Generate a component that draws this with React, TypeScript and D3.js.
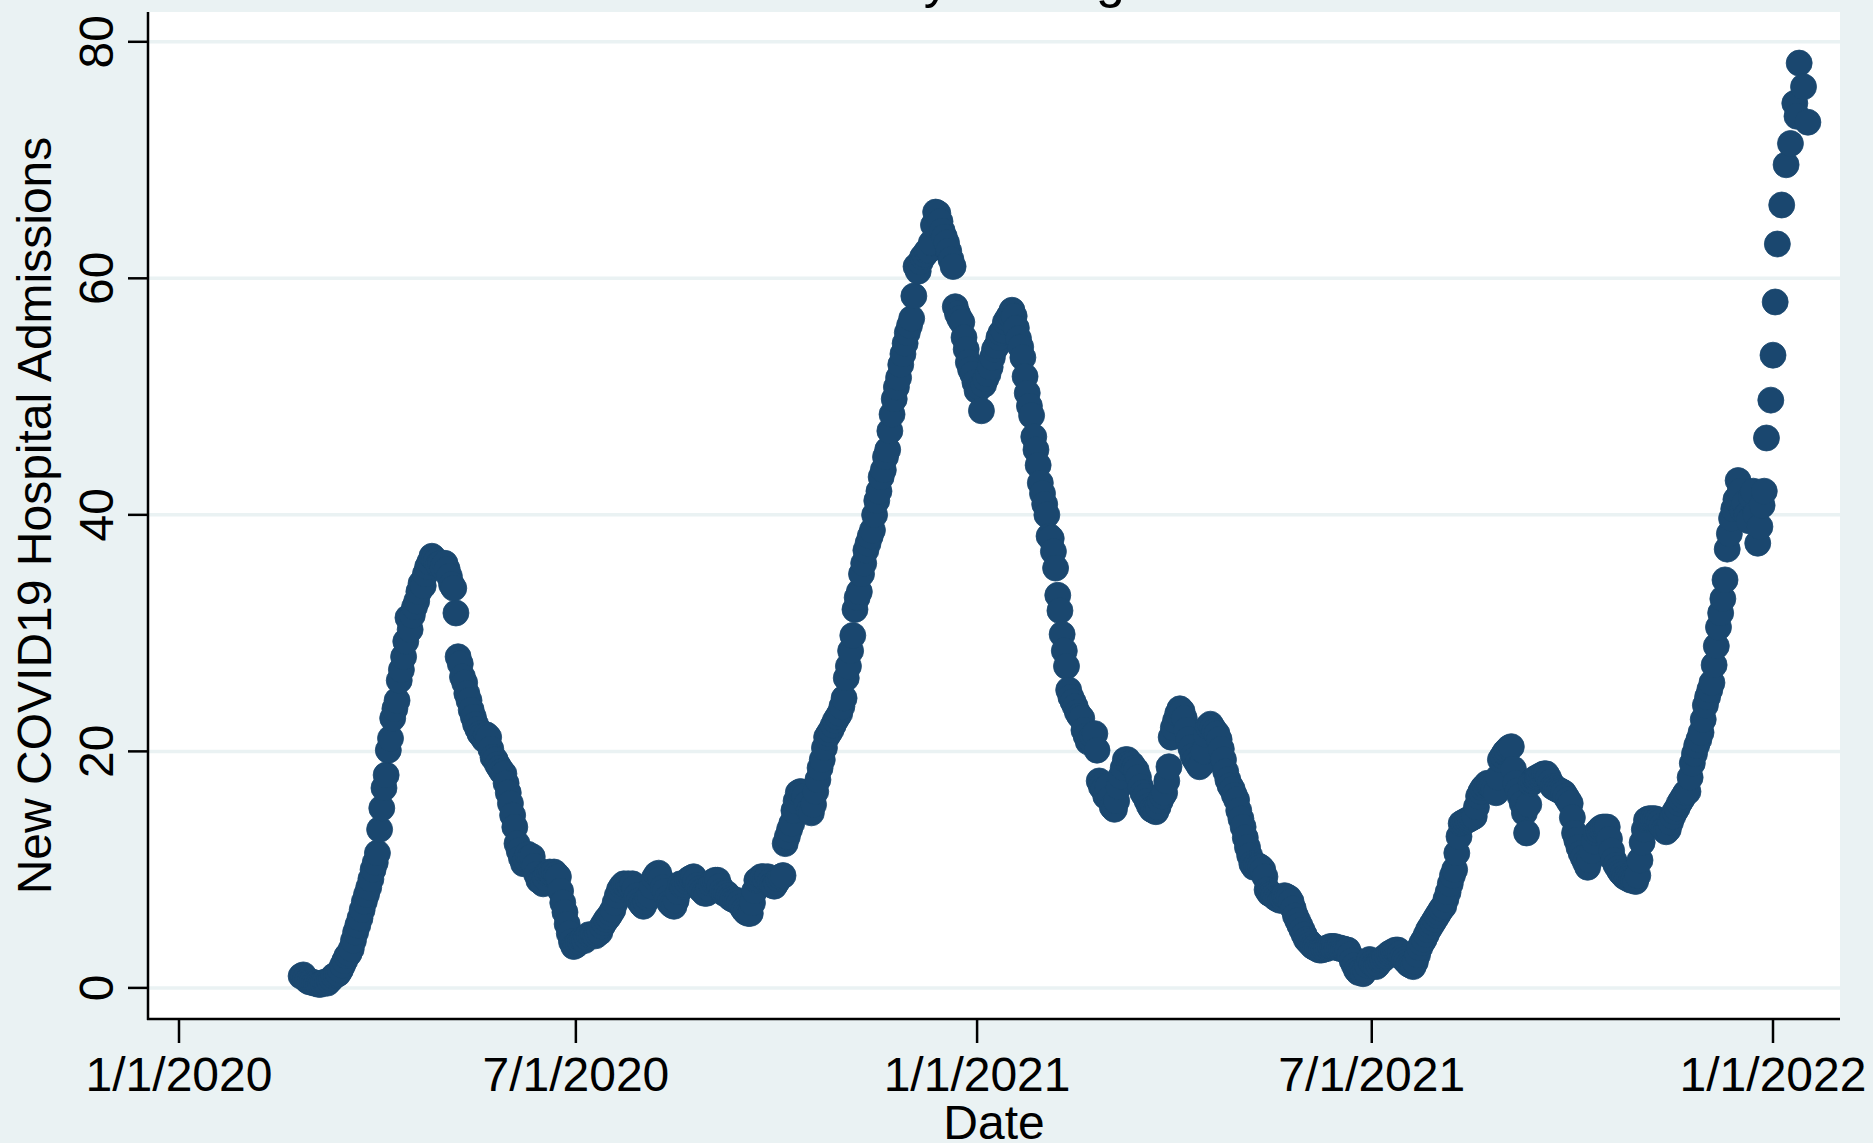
import React from "react";
import * as d3 from "d3";

// ---------------- data ----------------
const START_DATE = "2020-02-26"; // first daily observation
// 7-day average of new COVID19 hospital admissions, one value per day (null = no point)
const admissions: (number | null)[] = [
  1.0, 1.1, 0.8, 0.6, 0.5, 0.5, 0.4, 0.4, 0.3, 0.3,
  0.4, 0.5, 0.4, 0.6, 0.8, 1.0, 1.1, 1.2, 1.5, 1.9,
  2.3, 2.7, 2.9, 3.3, 4.0, 4.7, 5.3, 5.9, 6.6, 7.3,
  7.9, 8.5, 9.2, 10.0, 10.6, 11.4, 13.4, 15.2, 16.9, 18.0,
  20.1, 21.1, 22.8, 23.6, 24.3, 26.0, 26.9, 28.0, 29.3, 31.3,
  30.3, 31.5, 32.2, 32.7, 33.5, 34.2, 34.0, 35.0, 35.6, 36.0,
  36.5, 36.3, 36.1, 35.8, 35.9, 35.6, 35.9, 35.4, 34.8, 34.1,
  33.8, 31.7, 28.0, 27.4, 26.3, 25.8, 24.9, 24.3, 23.5, 22.9,
  22.3, 21.9, 21.5, 21.3, 21.0, 21.4, 21.2, 20.2, 19.5, 19.3,
  18.9, 18.6, 18.3, 18.1, 17.3, 16.5, 15.6, 14.6, 13.6, 12.2,
  11.6, 11.0, 10.5, 10.9, 11.3, 11.0, 11.1, 10.3, 9.6, 9.1,
  9.0, 8.8, 9.3, 9.7, 9.8, 9.7, 9.8, 9.6, 9.4, 8.2,
  7.2, 6.4, 5.4, 4.6, 3.9, 3.5, 3.6, 3.8, 3.9, 4.1,
  4.0, 4.3, 4.5, 4.4, 4.5, 4.4, 4.6, 4.7, 5.2, 5.5,
  5.8, 6.0, 6.3, 6.6, 7.2, 7.8, 8.3, 8.6, 8.8, 8.7,
  8.8, 8.6, 8.8, 8.4, 7.8, 7.4, 7.1, 6.9, 7.3, 7.6,
  7.8, 8.6, 9.3, 9.6, 9.7, 9.2, 8.5, 8.2, 7.6, 7.2,
  7.0, 6.9, 7.4, 8.1, 8.8, 8.6, 8.7, 9.0, 9.2, 9.3,
  9.4, 9.1, 8.7, 8.4, 8.2, 8.0, 8.0, 8.4, 8.8, 9.0,
  9.1, 9.1, 8.6, 8.2, 8.0, 8.0, 7.8, 7.6, 7.5, 7.4,
  7.4, 7.2, 6.9, 6.6, 6.4, 6.3, 6.3, 7.2, 8.2, 9.1,
  9.2, 9.4, 9.4, 9.2, 9.4, 9.0, 8.7, 8.6, 8.9, 9.2,
  9.4, 9.5, 12.2, 12.8, 13.4, 13.9, 15.0, 15.8, 16.5, 16.6,
  16.5, 16.2, 15.6, 15.0, 14.8, 15.5, 16.6, 17.6, 18.6, 19.3,
  20.3, 21.2, 21.5, 21.8, 22.2, 22.6, 22.9, 23.2, 23.8, 24.5,
  26.2, 27.2, 28.5, 29.8, 32.0, 33.0, 33.5, 35.0, 35.9, 37.0,
  37.6, 38.2, 38.7, 40.0, 41.2, 42.0, 43.2, 43.8, 44.9, 45.5,
  47.1, 48.5, 49.8, 50.8, 51.6, 52.7, 53.6, 54.5, 55.4, 56.0,
  56.6, 58.5, 61.0, 60.6, 61.4, 61.8, 62.0, 62.3, 62.4, 63.0,
  64.5, 65.6, 65.5, 64.8, 64.0, 63.5, 63.0, 62.3, 61.6, 61.0,
  57.6, 57.0, 56.6, 56.3, 55.0, 54.0, 52.9, 52.3, 51.9, 51.2,
  50.5, 50.8, 48.8, 51.0, 51.5, 51.9, 52.5, 53.3, 54.0, 54.3,
  55.0, 55.4, 55.6, 56.3, 56.6, 56.9, 57.3, 56.8, 55.8, 54.9,
  54.2, 53.3, 51.7, 50.3, 49.2, 48.4, 46.6, 45.5, 44.2, 42.7,
  41.8, 40.9, 40.0, 38.2, 38.0, 36.9, 35.5, 33.2, 31.9, 29.9,
  28.5, 27.2, 25.2, 24.6, 24.2, 23.8, 23.3, 23.0, 22.8, 21.8,
  21.3, 20.8, 21.0, 21.3, 21.5, 20.1, 17.5, 17.0, 16.8, 16.2,
  17.0, 16.0, 15.3, 15.1, 15.8, 17.0, 17.9, 18.6, 19.3, 19.3,
  19.0, 18.9, 18.6, 18.4, 17.8, 17.0, 16.5, 16.2, 15.8, 15.4,
  15.1, 15.0, 14.9, 15.3, 15.8, 16.2, 16.5, 17.5, 18.7, 21.2,
  22.0, 22.6, 23.2, 23.6, 23.4, 22.8, 21.8, 21.0, 20.3, 19.6,
  19.3, 19.0, 18.7, 18.9, 20.0, 21.4, 22.1, 22.3, 22.0, 21.7,
  21.5, 21.0, 20.2, 19.3, 18.3, 17.6, 17.1, 16.8, 16.3, 15.9,
  15.0, 14.3, 13.6, 12.7, 11.9, 11.2, 10.5, 10.2, 10.4, 10.3,
  10.2, 10.0, 9.4, 8.3, 8.0, 7.9, 7.8, 7.6, 7.5, 7.4,
  7.6, 7.8, 7.7, 7.6, 7.3, 6.7, 6.1, 5.7, 5.3, 4.9,
  4.5, 4.1, 3.9, 3.7, 3.5, 3.4, 3.3, 3.2, 3.2, 3.3,
  3.3, 3.4, 3.5, 3.5, 3.5, 3.4, 3.4, 3.3, 3.3, 3.2,
  3.2, 2.8, 2.3, 1.9, 1.5, 1.3, 1.4, 1.2, 1.5, 1.9,
  2.4, 2.1, 1.9, 1.8, 2.0, 2.3, 2.4, 2.6, 2.7, 2.9,
  3.0, 3.1, 3.2, 3.2, 2.9, 2.6, 2.4, 2.2, 2.0, 1.9,
  1.8, 2.2, 2.8, 3.4, 3.8, 4.1, 4.5, 4.9, 5.2, 5.5,
  5.8, 6.1, 6.4, 6.7, 6.9, 7.5, 8.1, 8.8, 9.5, 10.0,
  11.4, 12.8, 13.9, 14.0, 14.1, 14.2, 14.3, 14.4, 14.5, 15.3,
  16.2, 16.6, 16.9, 17.1, 17.3, 17.2, 17.0, 16.8, 16.5, 17.8,
  19.3, 19.6, 19.9, 20.1, 20.3, 20.4, 18.5, 17.3, 16.7, 16.2,
  15.6, 14.8, 13.1, 15.5, 17.3, 17.5, 17.7, 17.8, 17.9, 18.0,
  18.1, 18.1, 17.8, 17.4, 17.0, 16.9, 16.8, 16.7, 16.6, 16.5,
  16.2, 15.9, 15.6, 14.4, 13.1, 12.5, 11.9, 11.4, 11.0, 10.6,
  10.2, 10.8, 11.6, 12.4, 13.1, 13.3, 13.5, 13.6, 13.6, 13.6,
  12.6, 11.6, 10.8, 10.4, 10.1, 9.8, 9.6, 9.4, 9.3, 9.2,
  9.1, 9.1, 9.0, 9.5, 10.8, 12.3, 13.4, 14.2, 14.3, 14.3,
  14.3, 14.3, 14.2, 14.0, 13.7, 13.4, 13.2, 13.4, 14.0, 14.5,
  14.9, 15.2, 15.6, 15.9, 16.2, 16.5, 16.6, 17.8, 19.0, 19.8,
  20.5, 21.0, 21.6, 22.7, 23.9, 24.6, 25.2, 25.8, 27.3, 28.9,
  30.5, 31.7, 32.9, 34.5, 37.1, 38.4, 39.7, 40.5, 41.3, 42.9,
  42.0, 40.4, 41.0, 40.0, 39.5, 41.5, 42.0, 40.1, 37.6, 39.0,
  40.8, 42.0, 46.5, null, 49.7, 53.5, 58.0, 62.9, null, 66.2,
  null, 69.6, null, 71.4, null, 74.8, 73.7, 78.2, null, 76.2,
  null, 73.2,
];

const yTicks = [0, 20, 40, 60, 80];
const xTickDates = ["2020-01-01", "2020-07-01", "2021-01-01", "2021-07-01", "2022-01-01"];
const xTickLabels = ["1/1/2020", "7/1/2020", "1/1/2021", "7/1/2021", "1/1/2022"];
const TITLE = "Daily Average";
const X_TITLE = "Date";
const Y_TITLE = "New COVID19 Hospital Admissions";

// ---------------- style ----------------
const W = 1873;
const H = 1143;
const BG = "#eaf2f3";
const MARKER = "#1a476f";
const FONT = "'Liberation Sans', Arial, Helvetica, sans-serif";
const PLOT = { left: 148, right: 1840, top: 12, bottom: 1019 };

export default function App() {
  const x = d3
    .scaleUtc()
    .domain([new Date("2020-01-01T00:00:00Z"), new Date("2022-01-01T00:00:00Z")])
    .range([179, 1773]);
  const y = d3.scaleLinear().domain([0, 80]).range([987.9, 41.8]);

  const start = new Date(START_DATE + "T00:00:00Z");
  const points = admissions
    .map((v, i) => ({ date: d3.utcDay.offset(start, i), v }))
    .filter((p) => p.v !== null) as { date: Date; v: number }[];

  const cx = (PLOT.left + PLOT.right) / 2;
  const cy = (PLOT.top + PLOT.bottom) / 2;

  return (
    <svg
      width={W}
      height={H}
      viewBox={`0 0 ${W} ${H}`}
      style={{ position: "absolute", left: 0, top: 0, display: "block" }}
      fontFamily={FONT}
    >
      <rect x={0} y={0} width={W} height={H} fill={BG} />
      <text x={cx} y={-3} fontSize={52} textAnchor="middle" fill="#000">
        {TITLE}
      </text>
      <rect
        x={PLOT.left}
        y={PLOT.top}
        width={PLOT.right - PLOT.left}
        height={PLOT.bottom - PLOT.top}
        fill="#ffffff"
      />
      {/* grid */}
      {yTicks.map((t) => (
        <line
          key={"g" + t}
          x1={PLOT.left}
          x2={PLOT.right}
          y1={y(t)}
          y2={y(t)}
          stroke={BG}
          strokeWidth={3.5}
        />
      ))}
      {/* markers */}
      <g>
        {points.map((p, i) => (
          <circle
            key={i}
            cx={x(p.date)}
            cy={y(p.v)}
            r={13}
            fill={MARKER}
            stroke={MARKER}
            strokeWidth={0.8}
          />
        ))}
      </g>
      {/* axes */}
      <line x1={PLOT.left} x2={PLOT.left} y1={PLOT.top} y2={PLOT.bottom + 1} stroke="#000" strokeWidth={2.5} />
      <line x1={PLOT.left - 1} x2={PLOT.right} y1={PLOT.bottom} y2={PLOT.bottom} stroke="#000" strokeWidth={2.5} />
      {yTicks.map((t) => (
        <g key={"yt" + t}>
          <line x1={128} x2={PLOT.left} y1={y(t)} y2={y(t)} stroke="#000" strokeWidth={2.5} />
          <text
            transform={`translate(113, ${y(t)}) rotate(-90)`}
            fontSize={48}
            textAnchor="middle"
            fill="#000"
          >
            {t}
          </text>
        </g>
      ))}
      {xTickDates.map((d, i) => {
        const xx = x(new Date(d + "T00:00:00Z"));
        return (
          <g key={"xt" + d}>
            <line x1={xx} x2={xx} y1={PLOT.bottom} y2={1043} stroke="#000" strokeWidth={2.5} />
            <text x={xx} y={1091} fontSize={48} textAnchor="middle" fill="#000">
              {xTickLabels[i]}
            </text>
          </g>
        );
      })}
      <text x={cx} y={1139} fontSize={48} textAnchor="middle" fill="#000">
        {X_TITLE}
      </text>
      <text
        transform={`translate(51, ${cy}) rotate(-90)`}
        fontSize={48}
        textAnchor="middle"
        fill="#000"
      >
        {Y_TITLE}
      </text>
    </svg>
  );
}
